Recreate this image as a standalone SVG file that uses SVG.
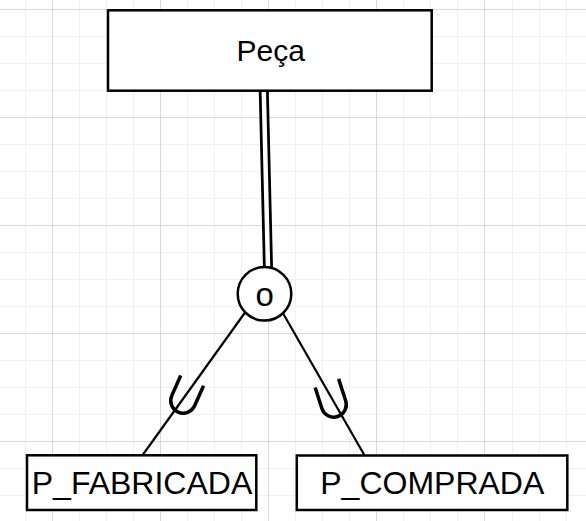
<svg xmlns="http://www.w3.org/2000/svg" width="586" height="521" viewBox="0 0 586 521">
<style>
.minor{stroke:#f0f0f0;stroke-width:1;fill:none}
.major{stroke:#d9d9d9;stroke-width:1;fill:none}
.box{fill:#ffffff;stroke:#000000;stroke-width:2.5}
.edge{stroke:#000000;stroke-width:2.2;fill:none}
.sub{stroke:#000000;stroke-width:3.5;fill:none}
.lbl{font-family:"Liberation Sans",Arial,Helvetica,sans-serif;fill:#000000;text-anchor:middle}
</style>
<rect x="0" y="0" width="586" height="521" fill="#ffffff"/>
<g id="grid">
<path class="minor" d="M25.5 0V521M79.5 0V521M106.5 0V521M133.5 0V521M187.5 0V521M214.5 0V521M241.5 0V521M295.5 0V521M322.5 0V521M349.5 0V521M403.5 0V521M430.5 0V521M457.5 0V521M512.5 0V521M539.5 0V521M566.5 0V521M0 36.5H586M0 63.5H586M0 90.5H586M0 144.5H586M0 171.5H586M0 198.5H586M0 252.5H586M0 279.5H586M0 306.5H586M0 360.5H586M0 387.5H586M0 414.5H586M0 468.5H586M0 495.5H586"/>
<path class="major" d="M52.5 0V521M160.5 0V521M268.5 0V521M376.5 0V521M484.5 0V521M0 9.5H586M0 117.5H586M0 225.5H586M0 333.5H586M0 441.5H586"/>
</g>
<g id="connectors">
<line x1="263.7" y1="88" x2="268.1" y2="272" stroke="#000000" stroke-width="10"/>
<line x1="263.7" y1="88" x2="268.1" y2="272" stroke="#ffffff" stroke-width="4.5"/>
<line class="edge" x1="248.3" y1="308" x2="142.7" y2="455"/>
<line class="edge" x1="280" y1="308" x2="364.3" y2="455"/>
<path class="sub" transform="translate(183.2,400.7) rotate(24)" d="M-12.5 -22V0A12.5 12.5 0 0 0 12.5 0V-22"/>
<path class="sub" transform="translate(333.8,404.6) rotate(-18)" d="M-12.5 -22V0A12.5 12.5 0 0 0 12.5 0V-23"/>
</g>
<g id="node-peca">
<rect class="box" x="108" y="10.3" width="323.7" height="80.4"/>
<text class="lbl" x="270.8" y="60.7" font-size="30">Peça</text>
</g>
<g id="node-overlap">
<circle class="box" cx="264.5" cy="293.8" r="26.8" stroke-width="2.2"/>
<text class="lbl" x="264.7" y="306.3" font-size="33">o</text>
</g>
<g id="node-fabricada">
<rect class="box" x="27" y="455.3" width="229.3" height="54.7"/>
<text class="lbl" x="142" y="493.5" font-size="32">P_FABRICADA</text>
</g>
<g id="node-comprada">
<rect class="box" x="296.8" y="455.5" width="270.5" height="54.5"/>
<text class="lbl" x="432.3" y="493.5" font-size="32">P_COMPRADA</text>
</g>
</svg>
